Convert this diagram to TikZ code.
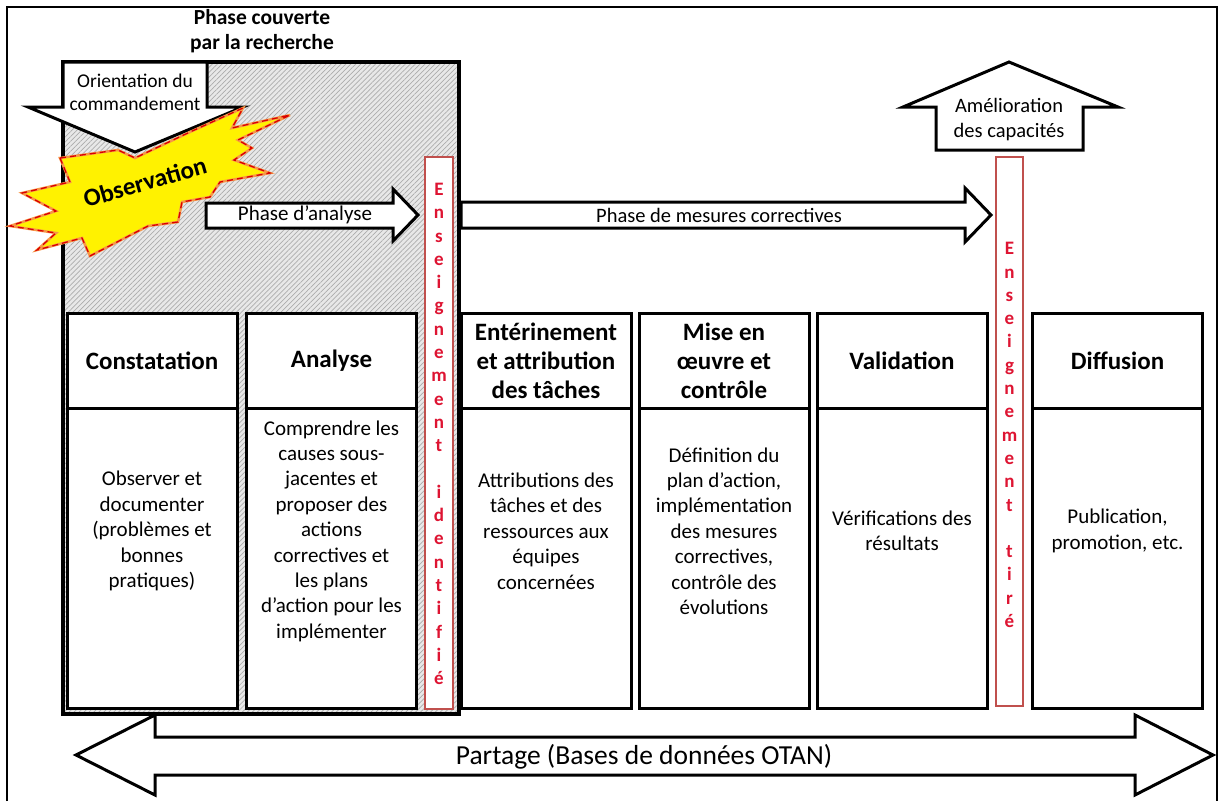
\documentclass[tikz,border=0pt]{standalone}
\usepackage{fontspec}
\setmainfont{Carlito}
\usetikzlibrary{patterns.meta}

\definecolor{lessonred}{RGB}{192,80,77}
\definecolor{letterred}{RGB}{222,20,50}
\definecolor{burstorange}{RGB}{247,150,70}

\begin{document}
\begin{tikzpicture}[x=1pt,y=-1pt,
  blockarrow/.style={draw, line width=3pt, fill=white, line join=miter},
  colbox/.style={draw, line width=3pt, fill=white},
  coltitle/.style={font=\fontsize{25}{29}\selectfont\bfseries, align=center, inner sep=0pt},
  coltext/.style={font=\fontsize{21}{25.4}\selectfont, align=center, inner sep=0pt},
  arrowtext/.style={font=\fontsize{20.5}{25}\selectfont, align=center, inner sep=0pt},
  lessonbox/.style={draw=lessonred, line width=2.5pt, fill=white},
  lessontext/.style={text=letterred, font=\fontsize{19}{23.3}\selectfont\bfseries, align=center, inner sep=0pt}]
  \useasboundingbox (0,0) rectangle (1220,801);

  % outer frame
  \draw[line width=1.5pt] (7,801) -- (7,7) -- (1217,7) -- (1217,801);

  % phase covered by the research
  \draw[line width=3.5pt, preaction={fill=gray!18},
    pattern={Lines[angle=45,distance=3.5pt,line width=0.7pt]}, pattern color=gray!65]
    (63,62) rectangle (459,714);
  \node[font=\fontsize{21.5}{25}\selectfont\bfseries, align=center, inner sep=0pt] (research) at (262,31) {Phase couverte\\par la recherche};

  % command guidance
  \draw[blockarrow] (63,62) -- (207,62) -- (207,107) -- (243,107) -- (135,152) -- (28,107) -- (63,107) -- cycle;
  \node[arrowtext, font=\fontsize{19.5}{23}\selectfont] (guidance) at (135,92) {Orientation du\\commandement};

  % observation burst
  \path[fill=yellow, draw=burstorange, line width=2.5pt, line join=miter, miter limit=6,
    postaction={draw=red!85!black, line width=1.3pt, dash pattern=on 6pt off 4pt}]
    (60,158) -- (118,150) -- (135,158) -- (190,132) -- (243,108) -- (232,128) -- (290,115)
    -- (238,140) -- (252,148) -- (234,160) -- (270,173) -- (220,182) -- (210,197) -- (182,202)
    -- (178,222) -- (148,226) -- (90,256) -- (82,238) -- (37,250) -- (56,233) -- (10,226)
    -- (56,211) -- (22,193) -- (70,182) -- cycle;
  \node[font=\fontsize{25}{30}\selectfont\bfseries, rotate=16, inner sep=0pt] (observation) at (145,182) {Observation};

  % analysis and corrective phases
  \draw[blockarrow] (206,203) -- (393,203) -- (393,189) -- (418,215) -- (393,241) -- (393,228) -- (206,228) -- cycle;
  \node[arrowtext, font=\fontsize{21}{25}\selectfont] (analysisphase) at (305,215) {Phase d’analyse};
  \draw[blockarrow] (461,202) -- (965,202) -- (965,188) -- (991,215) -- (965,242) -- (965,228) -- (461,228) -- cycle;
  \node[arrowtext] (correctivephase) at (719,215) {Phase de mesures correctives};

  % lessons
  \draw[lessonbox] (425,157) rectangle (453,709);
  \node[lessontext] (lessonid) at (439,434) {E\\n\\s\\e\\i\\g\\n\\e\\m\\e\\n\\t\\\mbox{}\\i\\d\\e\\n\\t\\i\\f\\i\\é};
  \draw[lessonbox] (996,157) rectangle (1023,706);
  \node[lessontext] (lessonlearned) at (1009.5,435) {E\\n\\s\\e\\i\\g\\n\\e\\m\\e\\n\\t\\\mbox{}\\t\\i\\r\\é};

  % stages
  \foreach \n/\cx/\ttl/\txt in {
    const/152/{Constatation}/{Observer et\\documenter\\(problèmes et\\bonnes\\pratiques)},
    analyse/331.5/{Analyse}/{Comprendre les\\causes sous-\\jacentes et\\proposer des\\actions\\correctives et\\les plans\\d’action pour les\\implémenter},
    taches/546/{Entérinement\\et attribution\\des tâches}/{Attributions des\\tâches et des\\ressources aux\\équipes\\concernées},
    oeuvre/724/{Mise en\\œuvre et\\contrôle}/{Définition du\\plan d’action,\\implémentation\\des mesures\\correctives,\\contrôle des\\évolutions},
    valid/902/{Validation}/{Vérifications des\\résultats},
    diffus/1117.5/{Diffusion}/{Publication,\\promotion, etc.}}{
    \draw[colbox] (\cx-85,313) rectangle (\cx+85,408);
    \draw[colbox] (\cx-85,408) rectangle (\cx+85,708);
    \node[coltitle] (\n-title) at (\cx,361) {\ttl};
    \node[coltext] (\n-text) at (\cx,531) {\txt};
  }

  % capability improvement
  \draw[blockarrow] (936,150) -- (936,107) -- (903,107) -- (1009,62) -- (1118,107) -- (1083,107) -- (1083,150) -- cycle;
  \node[arrowtext] (improvement) at (1009,120) {Amélioration\\des capacités};

  % sharing
  \draw[blockarrow] (76,755) -- (155,715) -- (155,737) -- (1135,737) -- (1135,715) -- (1213,755)
    -- (1135,795) -- (1135,775) -- (155,775) -- (155,795) -- cycle;
  \node[font=\fontsize{27.5}{32}\selectfont, inner sep=0pt] (sharing) at (644,757) {Partage (Bases de données OTAN)};
\end{tikzpicture}
\end{document}
